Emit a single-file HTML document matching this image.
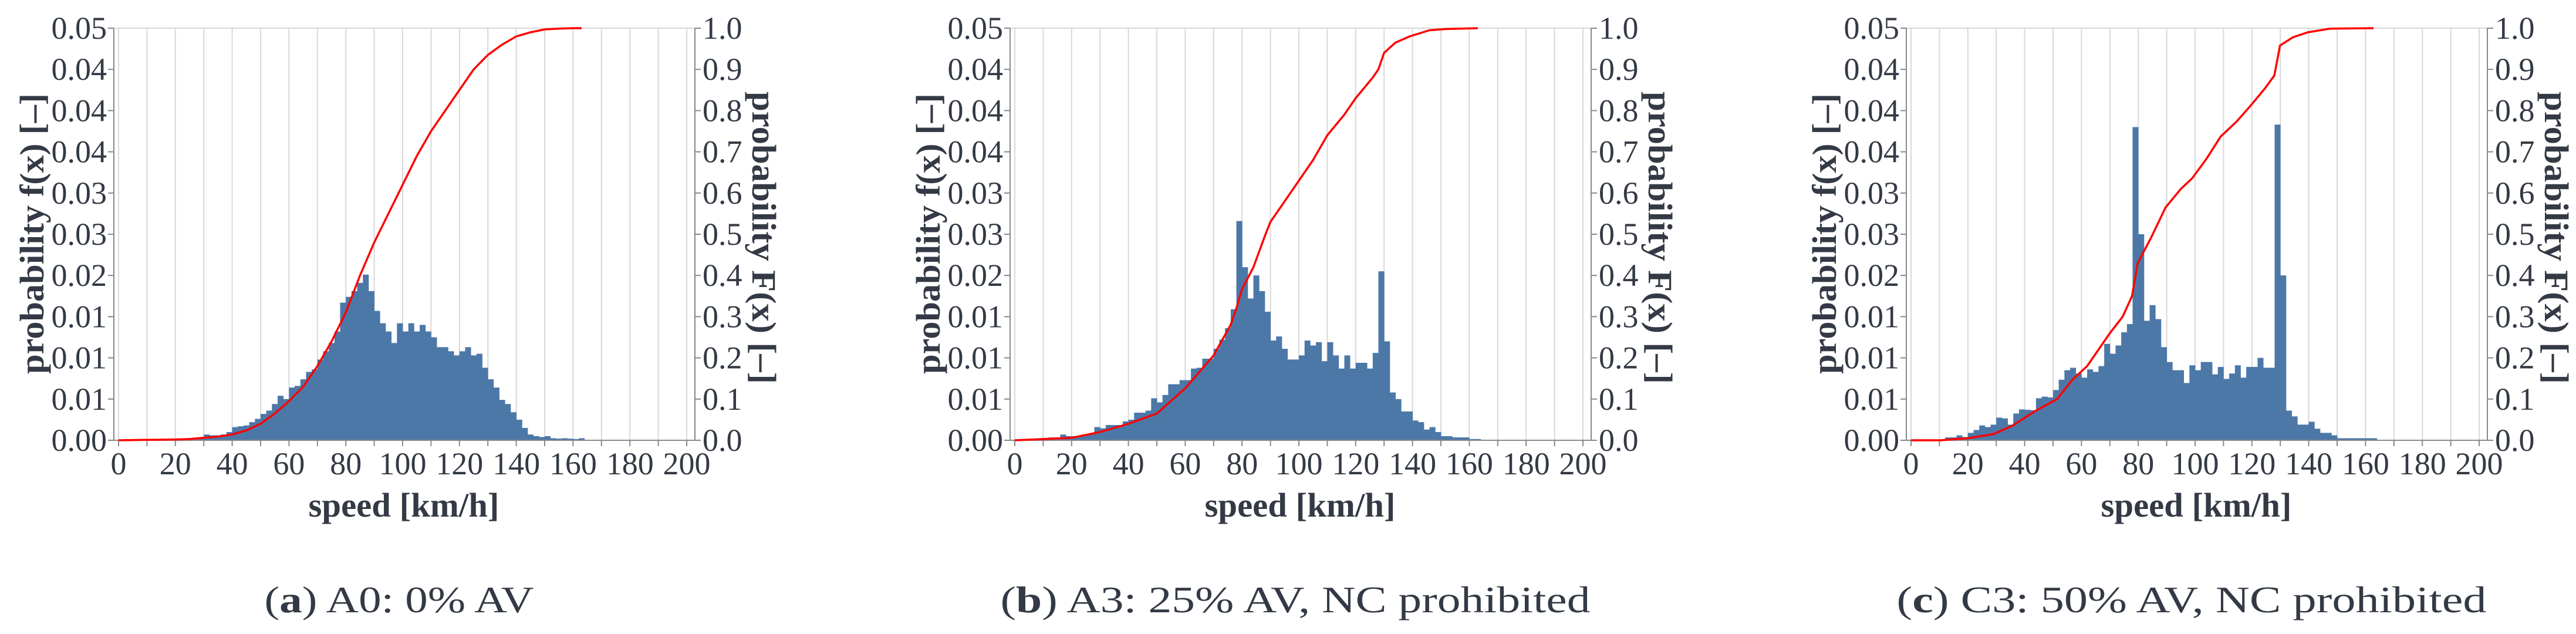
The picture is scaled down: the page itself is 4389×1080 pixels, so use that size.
<!DOCTYPE html>
<html><head><meta charset="utf-8"><title>Speed distributions</title>
<style>
html,body{margin:0;padding:0;background:#fff;}
svg{display:block;}
text{font-family:"Liberation Serif",serif;fill:#333a45;}
</style></head>
<body>
<svg id="fig" width="4389" height="1080" viewBox="0 0 4389 1080" xmlns="http://www.w3.org/2000/svg"></svg>
<script>
// ---- data (histogram values in thousandths, 2 km/h bins starting at 0) ----
const binWidth = 2;
const histA = [0,0,0,0.05,0.05, 0.05,0.05,0.1,0.1,0.1, 0.1,0.15,0.2,0.3,0.3, 0.7,0.6,0.6,0.7,1.0,
  1.6,1.7,1.8,2.2,2.6, 3.2,3.6,4.4,5.4,5.0, 6.4,6.6,7.4,8.3,8.6, 9.8,10.8,11.8,13.2,16.7,
  17.4,18.1,19.1,20.1,18.1, 15.7,14.2,13.2,11.8,14.2, 13.2,14.2,13.2,14.0,13.2, 12.5,11.3,11.3,10.8,10.3,
  10.8,11.3,10.3,10.5,8.8, 7.4,6.4,4.9,4.4,3.4, 2.5,1.5,0.7,0.5,0.4, 0.5,0.25,0.2,0.25,0.2, 0.15,0.25];
const histB = [0,0,0,0,0.2, 0.2,0.35,0.35,0.7,0.5, 0.5,0.5,0.75,0.75,1.6, 1.45,1.85,1.85,1.85,2.3,
  2.5,3.35,3.35,3.6,5.1, 4.6,5.5,6.8,6.8,7.3, 7.3,8.7,8.8,9.9,9.9, 11.1,12.2,13.6,15.9,26.6,
  21,17.2,20,18.1,15.6, 12.1,12.6,11.1,9.8,9.8, 10.3,12.1,11.5,11.9,9.6, 11.9,10.3,8.7,10.3,8.7,
  9.4,9.4,8.7,10.6,20.5, 12,5.8,5.0,3.5,3.5, 2.4,2.2,1.3,1.6,1.0, 0.5,0.5,0.35,0.35,0.35, 0.15,0.15];
const histC = [0,0,0,0,0, 0,0.35,0.35,0.6,0.4, 0.9,1.25,1.8,1.6,1.9, 2.75,2.65,1.9,3.25,3.75,
  3.7,3.65,5.1,5.3,5.2, 6.1,7.35,8.5,8.8,8.1, 7.6,8.6,8.3,9.0,11.7, 10.5,11.5,13.1,14.1,38,
  25,14.5,16.4,14.7,11.3, 9.5,8.5,8.5,6.95,9.1, 8.5,9.5,9.5,8.0,8.9, 7.45,8.1,9.1,7.6,8.9,
  8.9,10.0,8.8,8.8,38.3, 20,3.6,2.9,1.9,1.9, 2.25,1.4,0.9,0.9,0.6, 0.25,0.25,0.25,0.25,0.25, 0.25,0.25];
const cdfAx = [0,10,20,25,30,35,40,45,50,55,60,65,70,75,80,85,90,95,100,105,110,115,120,125,130,135,140,145,150,155,160,163];
const cdfAy = [0,0.001,0.002,0.003,0.006,0.009,0.014,0.024,0.04,0.065,0.095,0.13,0.18,0.24,0.31,0.40,0.48,0.55,0.62,0.69,0.75,0.80,0.85,0.90,0.935,0.96,0.98,0.99,0.997,0.999,1.0,1.0];
const cdfBx = [0,20,30,40,50,60,70,76,78,80,84,88,90,94,100,105,110,116,120,126,128,130,134,139,146,152,163];
const cdfBy = [0,0.006,0.02,0.04,0.065,0.126,0.206,0.28,0.32,0.367,0.42,0.495,0.53,0.57,0.63,0.68,0.74,0.79,0.83,0.88,0.90,0.94,0.965,0.98,0.995,0.998,1.0];
const cdfCx = [0,10.5,20,29,35.6,43.5,51.4,56.7,62,70,74.5,77.8,79.8,84.4,89.6,95,99,104,109,114.7,119.3,124.6,127.9,129.9,134.5,139.7,147.7,162.8];
const cdfCy = [0,0,0.005,0.015,0.035,0.07,0.10,0.146,0.18,0.26,0.30,0.35,0.43,0.49,0.565,0.61,0.636,0.683,0.737,0.774,0.81,0.854,0.885,0.958,0.978,0.99,0.999,1.0];
const leftTicks = ["0.00","0.01","0.01","0.01","0.02","0.03","0.03","0.04","0.04","0.04","0.05"];
const rightTicks = ["0.0","0.1","0.2","0.3","0.4","0.5","0.6","0.7","0.8","0.9","1.0"];
const xTicks = ["0","20","40","60","80","100","120","140","160","180","200"];
const captions = [["a",") A0: 0% AV"],["b",") A3: 25% AV, NC prohibited"],["c",") C3: 50% AV, NC prohibited"]];
const captionWidths = [459,1005,1005];

const NS = "http://www.w3.org/2000/svg";
const svg = document.getElementById("fig");
const TOP = 48, BOT = 750, X0 = 202, PXK = 4.84;
function mk(tag, attrs, parent){ const e=document.createElementNS(NS,tag); for(const k in attrs) e.setAttribute(k,attrs[k]); (parent||svg).appendChild(e); return e; }

function drawPanel(p, dx, hist, cx, cy){
  const g = mk("g",{transform:"translate("+dx+",0)"});
  
  
  const xs = v => X0 + v*PXK;
  const yf = v => BOT - (v/1000)/0.05*(BOT-TOP);
  const yF = v => BOT - v*(BOT-TOP);
  // grid
  for(let k=0;k<=200;k+=10){
    const l = mk("line",{x1:xs(k),x2:xs(k),y1:TOP,y2:BOT,stroke:"#d8d8d8","stroke-width":2},g);
    
    
  }
  const tl = mk("line",{x1:194,x2:1184,y1:TOP,y2:TOP,stroke:"#d8d8d8","stroke-width":2},g);
  
  
  // bars
  for(let i=0;i<hist.length;i++){
    if(hist[i]<=0) continue;
    const x = xs(i*binWidth), w = binWidth*PXK, y = yf(hist[i]);
    const r = mk("rect",{x:x,y:y,width:w+0.4,height:BOT-y,fill:"#4c78a8"},g);
    
    
  }
  // axes
  const ax = mk("line",{x1:194,x2:1184,y1:BOT,y2:BOT,stroke:"#888","stroke-width":2},g);
  
  
  const ly = mk("line",{x1:194,x2:194,y1:TOP,y2:BOT,stroke:"#888","stroke-width":2},g);
  
  
  const ry = mk("line",{x1:1184,x2:1184,y1:TOP,y2:BOT,stroke:"#888","stroke-width":2},g);
  
  
  for(let k=0;k<=200;k+=10){
    mk("line",{x1:xs(k),x2:xs(k),y1:BOT,y2:BOT+10,stroke:"#888","stroke-width":2},g);
  }
  for(let i=0;i<xTicks.length;i++){
    const t = mk("text",{x:xs(+xTicks[i]),y:808,"text-anchor":"middle","font-size":54},g);
    t.textContent = xTicks[i];
    
    
  }
  for(let i=0;i<leftTicks.length;i++){
    const y = BOT - i*(BOT-TOP)/10;
    mk("line",{x1:184,x2:194,y1:y,y2:y,stroke:"#888","stroke-width":2},g);
    mk("line",{x1:1184,x2:1194,y1:y,y2:y,stroke:"#888","stroke-width":2},g);
    const t = mk("text",{x:182,y:y+18,"text-anchor":"end","font-size":54},g);
    t.textContent = leftTicks[i];
    
    
    const t2 = mk("text",{x:1197,y:y+18,"text-anchor":"start","font-size":54},g);
    t2.textContent = rightTicks[i];
    
    
  }
  // cdf
  let d = "";
  for(let i=0;i<cx.length;i++) d += (i?"L":"M")+xs(cx[i]).toFixed(1)+","+yF(cy[i]).toFixed(1);
  const pth = mk("path",{d:d,fill:"none",stroke:"#ff0000","stroke-width":3.5,"stroke-linejoin":"round"},g);
  
  
  // titles
  const xt = mk("text",{x:688,y:880,"text-anchor":"middle","font-size":58,"font-weight":"bold",textLength:325,lengthAdjust:"spacingAndGlyphs"},g);
  xt.textContent = "speed [km/h]";
  
  
  const yt = mk("text",{x:0,y:0,"text-anchor":"middle","font-size":58,"font-weight":"bold",textLength:478,lengthAdjust:"spacingAndGlyphs",transform:"translate(74,398) rotate(-90)"},g);
  yt.textContent = "probability f(x) [–]";
  
  
  const rt = mk("text",{x:0,y:0,"text-anchor":"middle","font-size":58,"font-weight":"bold",textLength:498,lengthAdjust:"spacingAndGlyphs",transform:"translate(1282,405) rotate(90)"},g);
  rt.textContent = "probability F(x) [–]";
  
  
  // caption
  const c = mk("text",{x:680,y:1043,"text-anchor":"middle","font-size":64,textLength:captionWidths[p],lengthAdjust:"spacingAndGlyphs"},g);
  
  
  c.appendChild(document.createTextNode("("));
  const b = document.createElementNS(NS,"tspan"); b.setAttribute("font-weight","bold"); b.textContent = captions[p][0]; c.appendChild(b);
  c.appendChild(document.createTextNode(captions[p][1]));
}
drawPanel(0, 0, histA, cdfAx, cdfAy);
drawPanel(1, 1527, histB, cdfBx, cdfBy);
drawPanel(2, 3054, histC, cdfCx, cdfCy);
</script>
</body></html>
